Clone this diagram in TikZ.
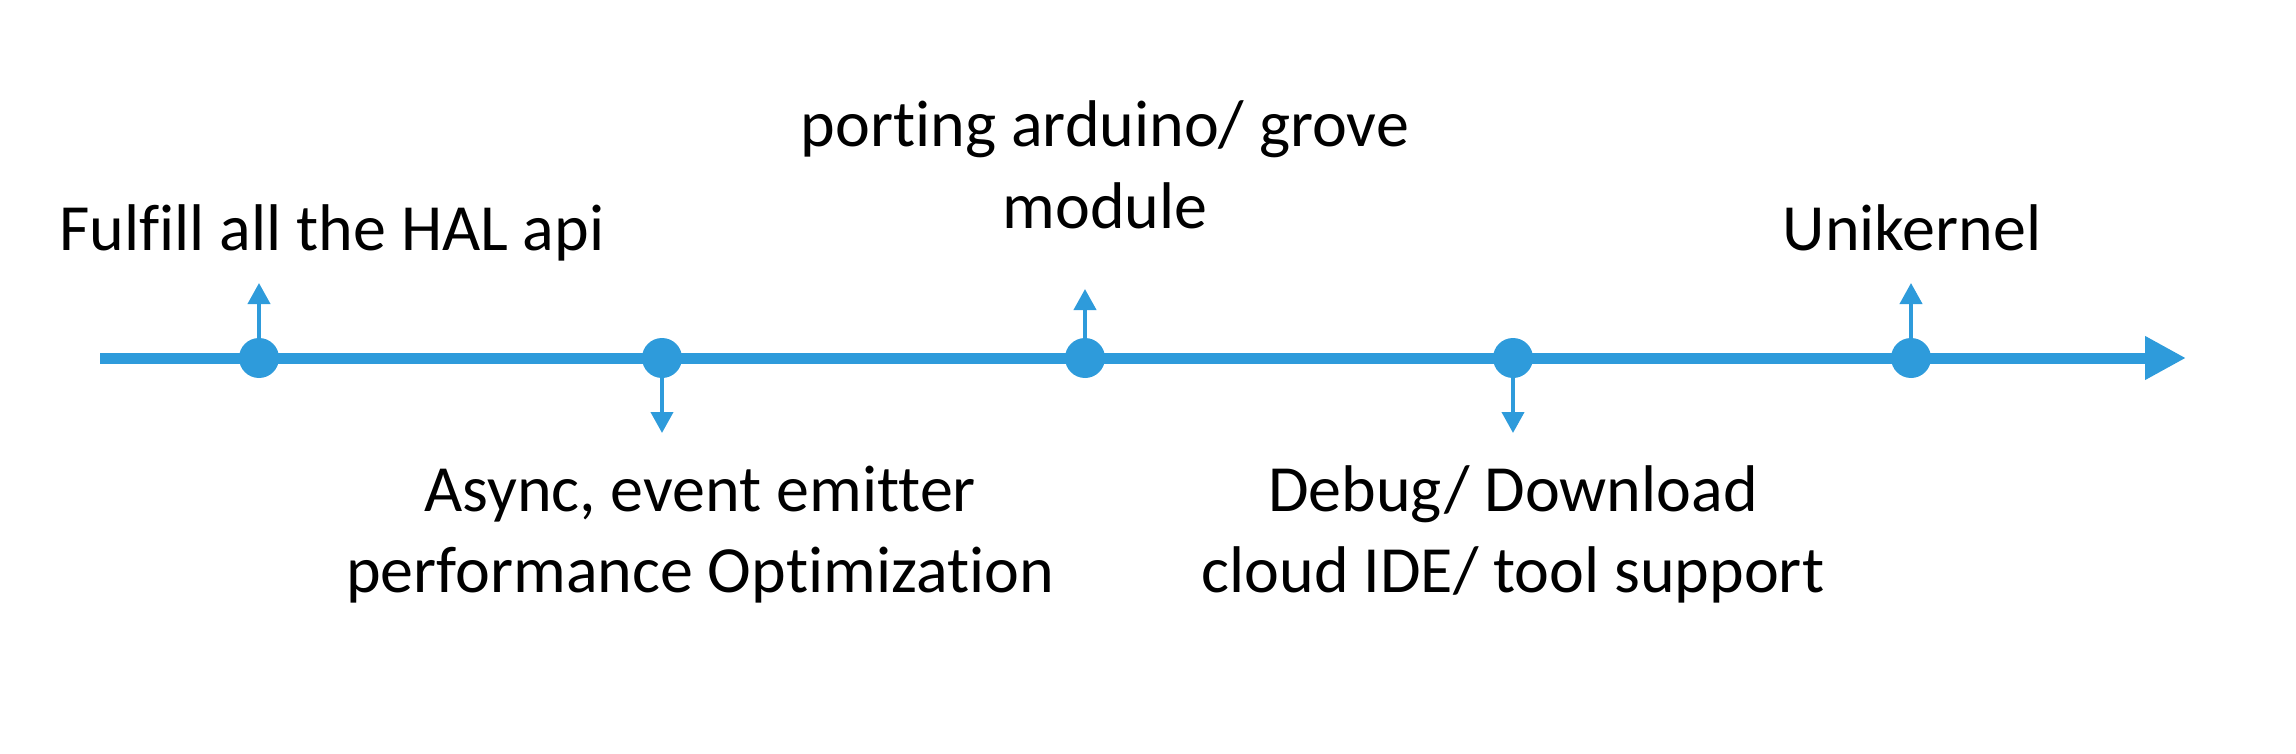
\documentclass[tikz,border=0pt]{standalone}
\usepackage{fontspec}
\setmainfont{Carlito}[Ligatures=CommonOff]
\usetikzlibrary{arrows.meta}
\definecolor{tl}{RGB}{46,155,219}
\begin{document}
\begin{tikzpicture}[x=0.5pt,y=-0.5pt,
  dot/.style={circle,fill=tl,inner sep=0pt,minimum size=20pt},
  axisline/.style={draw=tl,line width=5.5pt,-{Triangle[length=20.5pt,width=20.5pt]}},
  tickarrow/.style={draw=tl,line width=2pt,-{Triangle[length=10.5pt,width=11pt]}},
  lbl/.style={font=\fontsize{33}{40.5}\selectfont,align=center,anchor=base,inner sep=0pt}]
\useasboundingbox (0,0) rectangle (2296,754);
\coordinate (s) at (100,358);
\coordinate (e) at (2186,358);
\draw[axisline] (s) -- (e);
\node[dot] (d1) at (259,358) {};
\node[dot] (d2) at (662,358) {};
\node[dot] (d3) at (1085,358) {};
\node[dot] (d4) at (1513,358) {};
\node[dot] (d5) at (1911,358) {};
\coordinate (t1) at (259,283);
\coordinate (t2) at (662,433);
\coordinate (t3) at (1085,289);
\coordinate (t4) at (1513,433);
\coordinate (t5) at (1911,283);
\draw[tickarrow] (d1.center) -- (t1);
\draw[tickarrow] (d2.center) -- (t2);
\draw[tickarrow] (d3.center) -- (t3);
\draw[tickarrow] (d4.center) -- (t4);
\draw[tickarrow] (d5.center) -- (t5);
\node[lbl] (l1) at (332,251) {Fulfill all the HAL api};
\node[lbl] (l2) at (700,592) {Async, event emitter\\performance Optimization};
\node[lbl] (l3) at (1105,228) {porting arduino/ grove\\module};
\node[lbl] (l4) at (1513,592) {Debug/ Download\\cloud IDE/ tool support};
\node[lbl] (l5) at (1912,251) {Unikernel};
\end{tikzpicture}
\end{document}
